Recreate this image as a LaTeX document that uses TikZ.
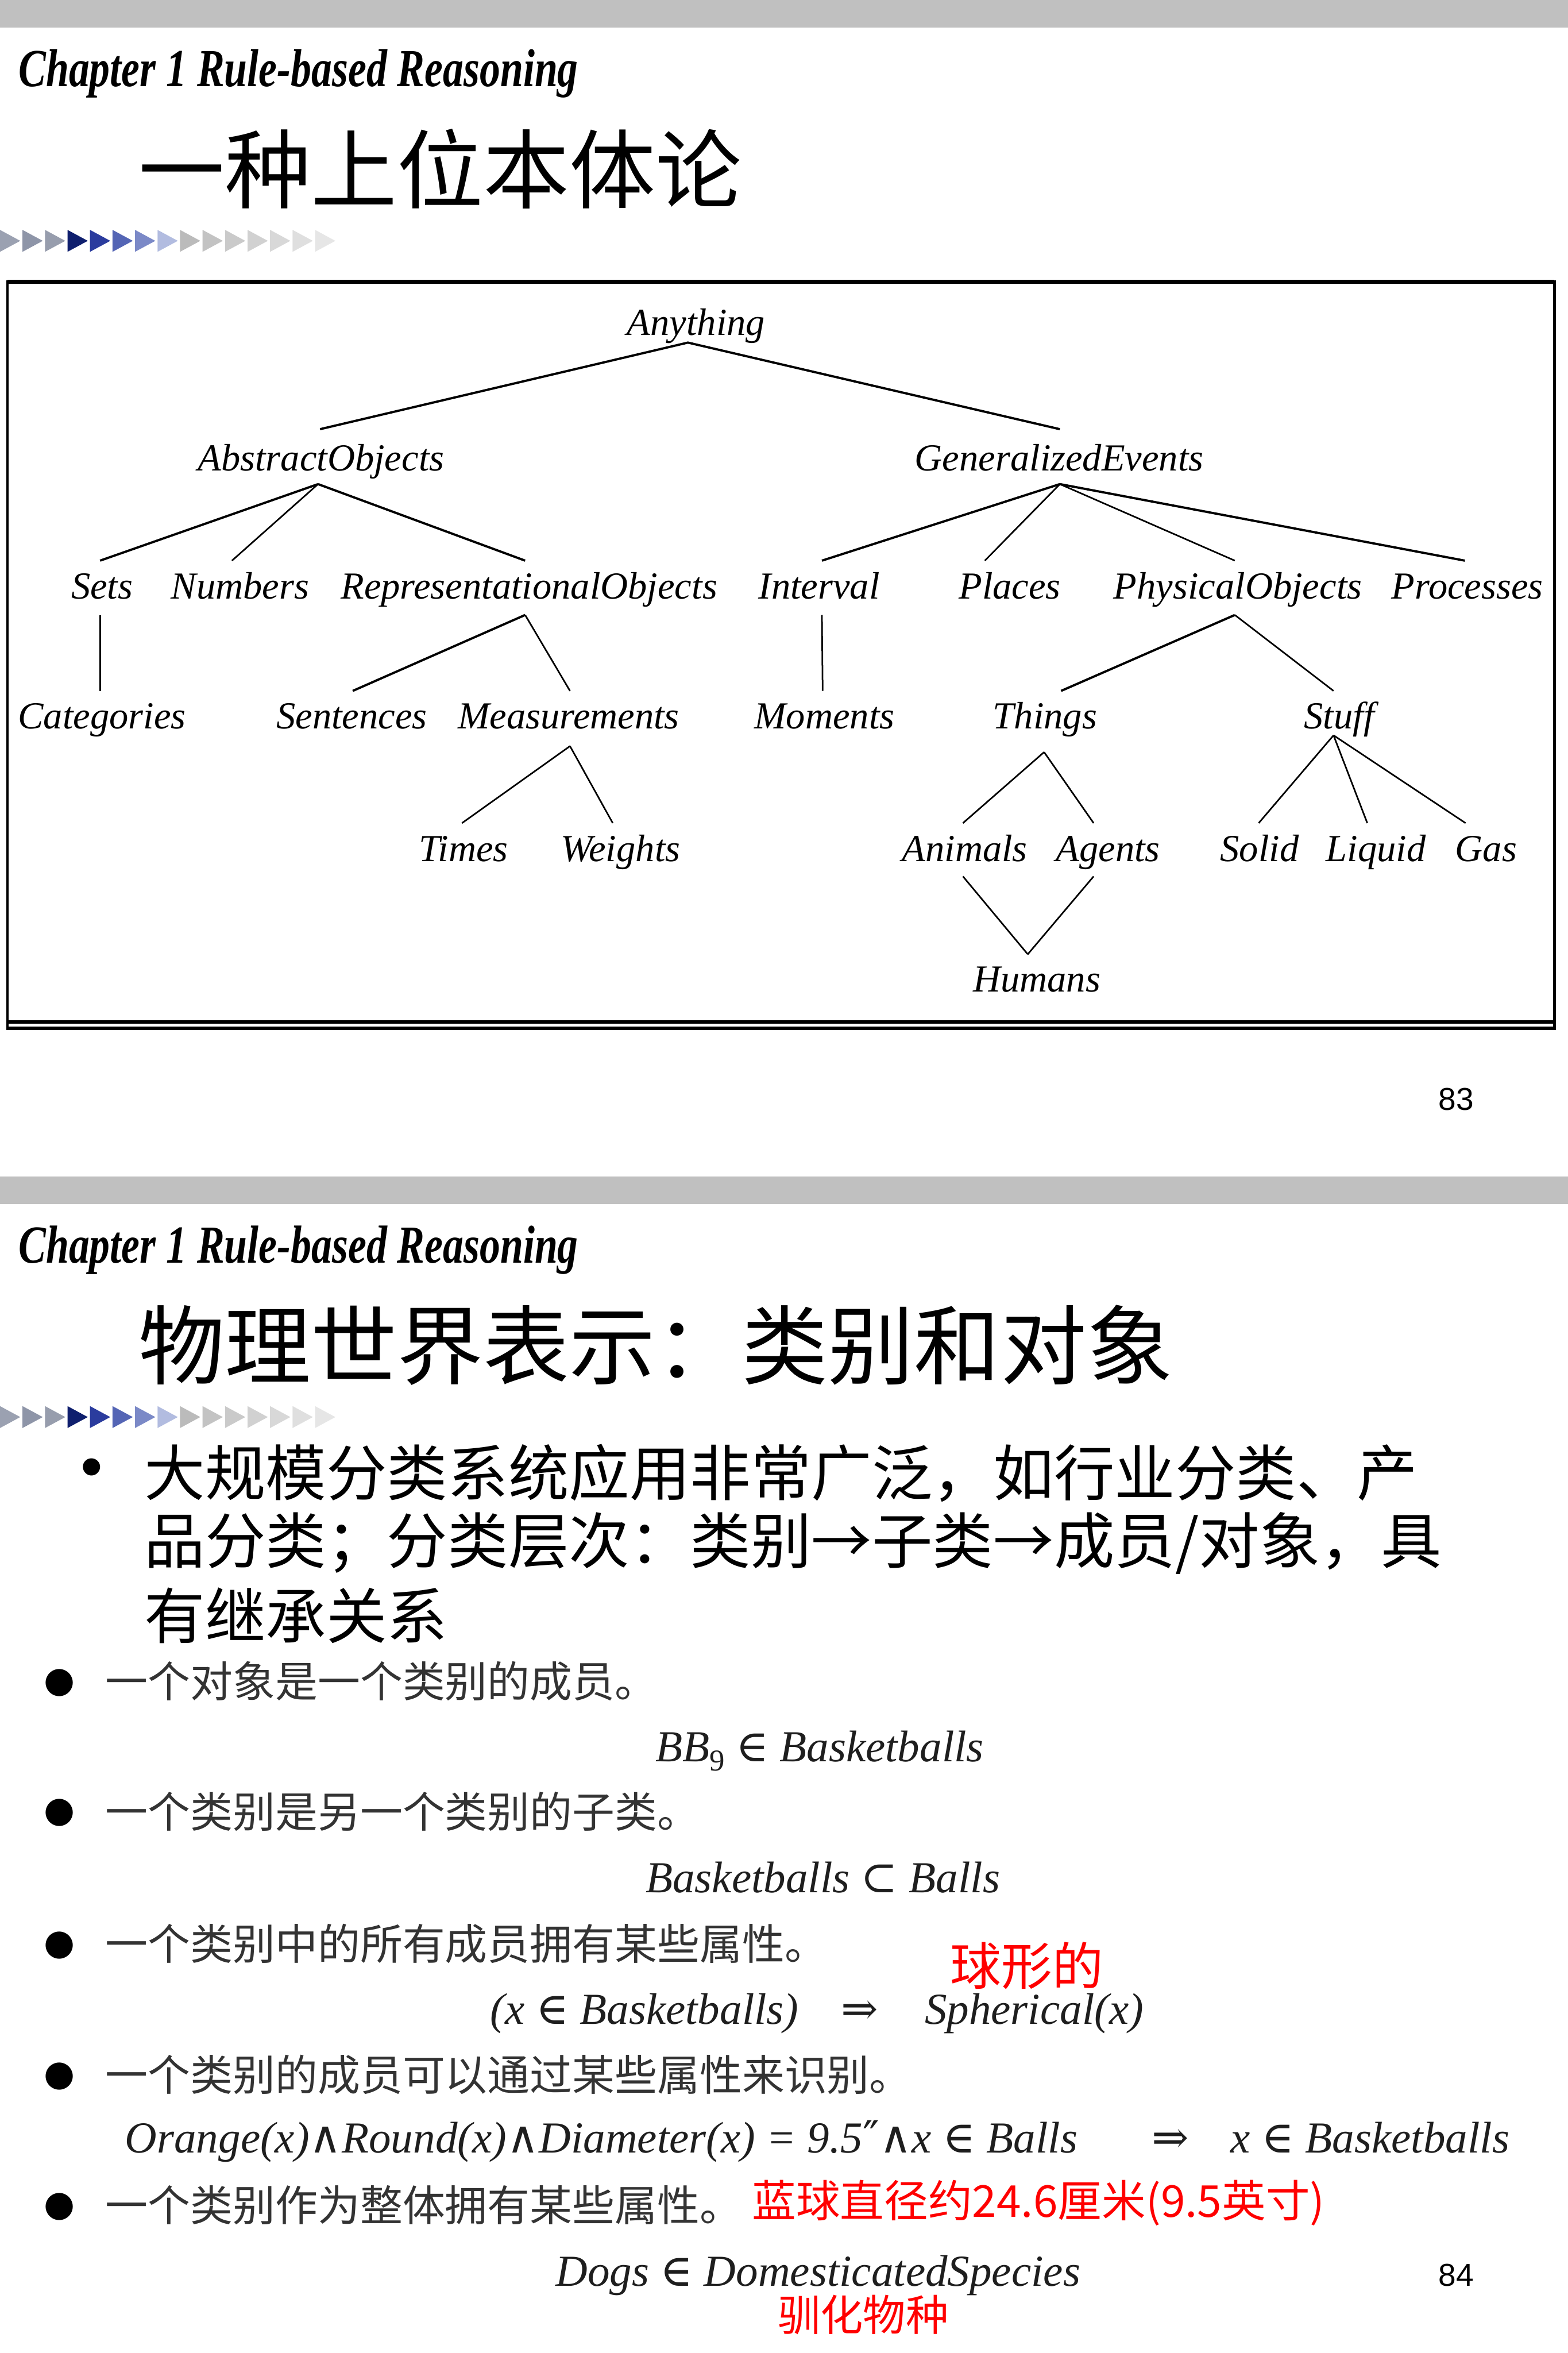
\documentclass[tikz,border=0pt]{standalone}
\usepackage{fontspec}
\usetikzlibrary{calc}
\setmainfont{Liberation Serif}
\newfontfamily\cjk{Noto Sans CJK SC}
\newfontfamily\chapfont[FakeStretch=0.77]{Liberation Serif}
\newfontfamily\symfont{DejaVu Serif}
\newfontfamily\bulfont{DejaVu Sans}
\newfontfamily\numfont{Liberation Sans}
\newcommand{\fsz}[1]{\fontsize{#1}{#1}\selectfont}
\definecolor{bargray}{HTML}{C0C0C0}
\definecolor{pastegray}{HTML}{333333}
\definecolor{formgray}{HTML}{1E1E1E}
\definecolor{redtext}{HTML}{FF0000}
\newcommand{\inn}{{\upshape\symfont ∈}}
\newcommand{\sbs}{{\upshape\symfont ⊂}}
\newcommand{\imp}{{\upshape\symfont ⇒}}
\newcommand{\wdg}{{\upshape\symfont ∧}}
\begin{document}
\begin{tikzpicture}[x=0.02cm,y=-0.02cm,
  tn/.style={font={\itshape\fsz{14.5pt}}, inner sep=0pt, anchor=base},
  edgethick/.style={line width=0.85pt, black},
  edgethin/.style={line width=0.6pt, black},
  chap/.style={font={\chapfont\bfseries\itshape\fsz{20.3pt}}, inner sep=0pt, anchor=base west},
  slidetitle/.style={font={\cjk\fsz{32.7pt}}, inner sep=0pt, anchor=west},
  bigline/.style={font={\cjk\fsz{23pt}}, inner sep=0pt, anchor=west},
  pastetext/.style={font={\cjk\fsz{16.1pt}}, text=pastegray, inner sep=0pt, anchor=west},
  pastebul/.style={font={\bulfont\fsz{13.5pt}}, inner sep=0pt, anchor=center},
  formula/.style={font={\itshape\fsz{16.8pt}}, text=formgray, inner sep=0pt, anchor=base west},
  redcjk/.style={font={\cjk\fsz{16.7pt}}, text=redtext, inner sep=0pt, anchor=west},
  pagenum/.style={font={\numfont\fsz{12pt}}, inner sep=0pt, anchor=center}
]
\useasboundingbox (0,0) rectangle (1045,1568);
\fill[white] (0,0) rectangle (1045,1568);

% ---------- header bars ----------
\fill[bargray] (0,0) rectangle (1045,18.3);
\fill[bargray] (0,783.8) rectangle (1045,802.4);

% ---------- triangle strips ----------
\foreach \dy in {0,783.8} {
  \foreach \c [count=\i from 0] in {9BA1B1,8E95A8,979DAD,0F1F6E,2B3C9E,5465B5,7B89C7,B2BCE0,BBBBBB,C3C3C3,CACACA,D1D1D1,D8D8D8,DFDFDF,E6E6E6} {
    \definecolor{tc}{HTML}{\c}
    \fill[tc] (15*\i,153.2+\dy) -- (15*\i+13.5,160.5+\dy) -- (15*\i,167.8+\dy) -- cycle;
  }
}

% ---------- slide 1 ----------
\node[chap] (chap1) at (12,57.8) {Chapter 1 Rule-based Reasoning};
\node[slidetitle] (title1) at (92,112.5) {一种上位本体论};

\draw[line width=1pt] (5,187.8) rectangle (1036,685.4);
\draw[line width=1.6pt] (5,187.8) -- (1036,187.8);
\draw[line width=1.3pt] (5,681.2) -- (1036,681.2);
\draw[line width=1.3pt] (5,685.4) -- (1036,685.4);

\node[tn] (anything) at (464,223.5) {Anything};
\node[tn] (ao) at (214,313.6) {AbstractObjects};
\node[tn] (ge) at (706,313.6) {GeneralizedEvents};
\node[tn] (sets) at (68,399) {Sets};
\node[tn] (numbers) at (160,399) {Numbers};
\node[tn] (repobj) at (352.6,399) {RepresentationalObjects};
\node[tn] (interval) at (546,399) {Interval};
\node[tn] (places) at (673,399) {Places};
\node[tn] (physobj) at (825,399) {PhysicalObjects};
\node[tn] (processes) at (978,399) {Processes};
\node[tn] (categories) at (68,485.5) {Categories};
\node[tn] (sentences) at (234.5,485.5) {Sentences};
\node[tn] (measurements) at (379,485.5) {Measurements};
\node[tn] (moments) at (549.5,485.5) {Moments};
\node[tn] (things) at (696.5,485.5) {Things};
\node[tn] (stuff) at (892.5,485.5) {Stuff};
\node[tn] (times) at (309,574) {Times};
\node[tn] (weights) at (413.5,574) {Weights};
\node[tn] (animals) at (643,574) {Animals};
\node[tn] (agents) at (738.5,574) {Agents};
\node[tn] (solid) at (839.5,574) {Solid};
\node[tn] (liquid) at (917,574) {Liquid};
\node[tn] (gas) at (990.5,574) {Gas};
\node[tn] (humans) at (691,661) {Humans};

\draw[edgethick] ($(ao.base)+(-0.7,-27.6)$) -- ($(anything.base)+(-5.5,4.8)$) -- ($(ge.base)+(0.4,-27.6)$);
\draw[edgethick] ($(ao.base)+(-2,9)$) -- ($(sets.base)+(-1.3,-25.4)$);
\draw[edgethin]  ($(ao.base)+(-2,9)$) -- ($(numbers.base)+(-5.4,-25.4)$);
\draw[edgethick] ($(ao.base)+(-2,9)$) -- ($(repobj.base)+(-2.6,-25.4)$);
\draw[edgethick] ($(ge.base)+(0.4,9)$) -- ($(interval.base)+(1.8,-25.4)$);
\draw[edgethin]  ($(ge.base)+(0.4,9)$) -- ($(places.base)+(-16.6,-25.4)$);
\draw[edgethin]  ($(ge.base)+(0.4,9)$) -- ($(physobj.base)+(-2,-25.4)$);
\draw[edgethick] ($(ge.base)+(0.4,9)$) -- ($(processes.base)+(-1.7,-25.4)$);
\draw[edgethin]  ($(sets.base)+(-1.3,10.8)$) -- ($(categories.base)+(-1.3,-25.1)$);
\draw[edgethick] ($(repobj.base)+(-2.6,10.8)$) -- ($(sentences.base)+(0.6,-25.1)$);
\draw[edgethin]  ($(repobj.base)+(-2.6,10.8)$) -- ($(measurements.base)+(0.9,-25.1)$);
\draw[edgethin]  ($(interval.base)+(1.8,10.8)$) -- ($(moments.base)+(-1.2,-25.1)$);
\draw[edgethick] ($(physobj.base)+(-2,10.8)$) -- ($(things.base)+(10.7,-25.1)$);
\draw[edgethin]  ($(physobj.base)+(-2,10.8)$) -- ($(stuff.base)+(-3.7,-25.1)$);
\draw[edgethin]  ($(measurements.base)+(0.9,11.7)$) -- ($(times.base)+(-1.1,-25.5)$);
\draw[edgethin]  ($(measurements.base)+(0.9,11.7)$) -- ($(weights.base)+(-5.1,-25.5)$);
\draw[edgethin]  ($(things.base)+(-0.6,15.7)$) -- ($(animals.base)+(-1.2,-25.5)$);
\draw[edgethin]  ($(things.base)+(-0.6,15.7)$) -- ($(agents.base)+(-9.6,-25.5)$);
\draw[edgethin]  ($(stuff.base)+(-3.7,4.5)$) -- ($(solid.base)+(-0.6,-25.5)$);
\draw[edgethin]  ($(stuff.base)+(-3.7,4.5)$) -- ($(liquid.base)+(-5.7,-25.5)$);
\draw[edgethin]  ($(stuff.base)+(-3.7,4.5)$) -- ($(gas.base)+(-13.7,-25.5)$);
\draw[edgethin]  ($(animals.base)+(-1.2,10)$) -- ($(humans.base)+(-6,-25.1)$);
\draw[edgethin]  ($(agents.base)+(-9.6,10)$) -- ($(humans.base)+(-6,-25.1)$);

\node[pagenum] (p83) at (970.5,732.7) {83};

% ---------- slide 2 ----------
\node[chap] (chap2) at (12,841.6) {Chapter 1 Rule-based Reasoning};
\node[slidetitle] (title2) at (92,896.4) {物理世界表示：类别和对象};

\node[font={\numfont\fsz{24pt}}, inner sep=0pt] (dot0) at (61.3,982) {•};
\node[bigline] (line1) at (96,981.7) {大规模分类系统应用非常广泛，如行业分类、产};
\node[bigline] (line2) at (96,1028.5) {品分类；分类层次：类别→子类→成员/对象，具};
\node[bigline] (line3) at (96,1076.7) {有继承关系};

\node[pastebul] (d1) at (39.6,1121.6) {●};
\node[pastetext] (t1) at (70,1120.4) {一个对象是一个类别的成员。};
\node[formula] (f1) at (436.5,1173.7) {BB\raisebox{-0.22em}{\upshape\fsz{11.5pt}9} \inn{} Basketballs};

\node[pastebul] (d2) at (39.6,1208) {●};
\node[pastetext] (t2) at (70,1207) {一个类别是另一个类别的子类。};
\node[formula] (f2) at (430,1261) {Basketballs \sbs{} Balls};

\node[pastebul] (d3) at (39.6,1296.4) {●};
\node[pastetext] (t3) at (70,1295.4) {一个类别中的所有成员拥有某些属性。};
\node[formula] (f3a) at (326.5,1348.7) {(x \inn{} Basketballs)};
\node[formula, anchor=base] (f3b) at (573,1348.7) {\imp};
\node[formula] (f3c) at (616,1348.7) {Spherical(x)};
\node[redcjk, font={\cjk\fsz{19.35pt}}] (r1) at (633,1310) {球形的};

\node[pastebul] (d4) at (39.6,1383.5) {●};
\node[pastetext] (t4) at (70,1382.5) {一个类别的成员可以通过某些属性来识别。};
\node[formula] (f4a) at (83,1434.7) {Orange(x)\wdg Round(x)\wdg Diameter(x) = 9.5{\upshape\symfont ″}\wdg x \inn{} Balls};
\node[formula, anchor=base] (f4b) at (780,1434.7) {\imp};
\node[formula] (f4c) at (820,1434.7) {x \inn{} Basketballs};

\node[pastebul] (d5) at (39.6,1470.6) {●};
\node[pastetext] (t5) at (70,1469.6) {一个类别作为整体拥有某些属性。};
\node[redcjk] (r2) at (501,1468) {蓝球直径约24.6厘米(9.5英寸)};
\node[formula] (f5) at (370,1523.3) {Dogs \inn{} DomesticatedSpecies};
\node[redcjk, font={\cjk\fsz{16.2pt}}] (r3) at (518,1542.5) {驯化物种};

\node[pagenum] (p84) at (970.5,1516.3) {84};
\end{tikzpicture}
\end{document}
